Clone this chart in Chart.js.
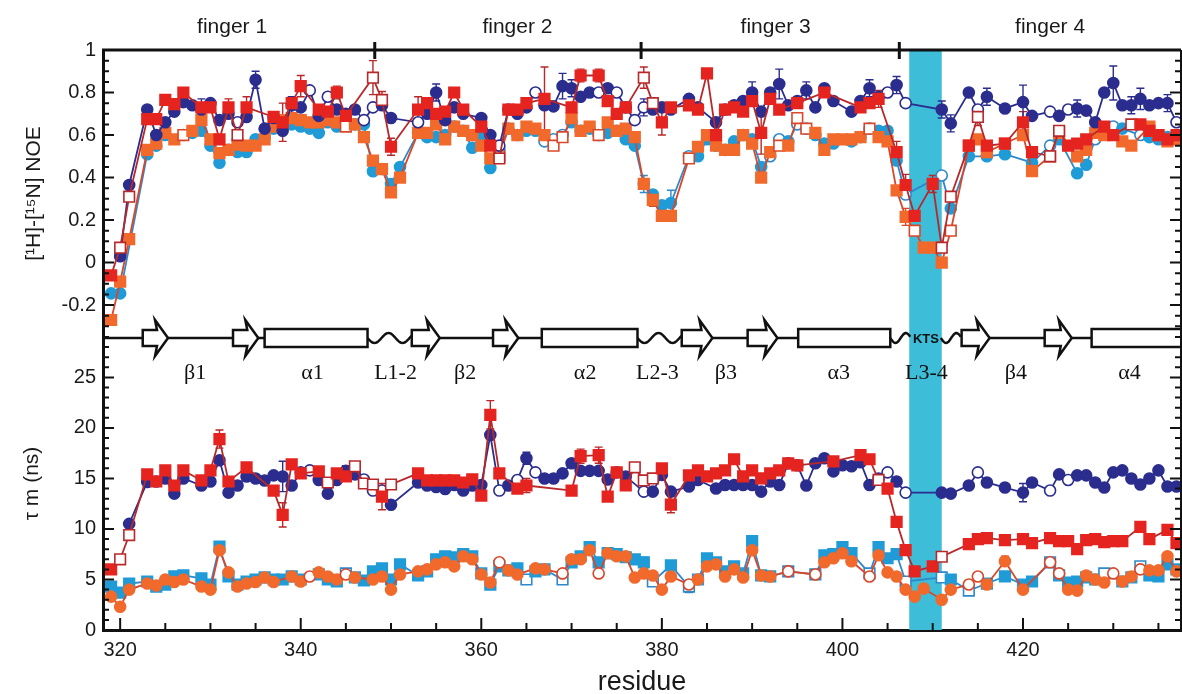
<!DOCTYPE html>
<html>
<head>
<meta charset="utf-8">
<script src="https://cdn.jsdelivr.net/npm/chart.js@4.4.1/dist/chart.umd.min.js"></script>
<style>
html,body{margin:0;padding:0;background:#fff}
</style>
</head>
<body>
<canvas id="chart" width="1182" height="694"></canvas>
<script>
const fam = '"Liberation Sans", Arial, sans-serif';
const serif = '"Liberation Serif", "DejaVu Serif", serif';

// axes
const xMin = 318.1, xMax = 437.5;
const xTicks = [320,340,360,380,400,420];
const noeTicks = [-0.2,0,0.2,0.4,0.6,0.8,1];
const tauTicks = [0,5,10,15,20,25];

// domains / secondary structure
const fingers = ['finger 1','finger 2','finger 3','finger 4'];
const fingerCenters = [332.4,364,392.6,423];
const fingerBounds = [348.2,377.7,406.3];
const ktsBand = [407.4,411.0];
const strands = [[322.5,325.3],[332.5,335.3],[352.3,355.4],[361.3,364.1],[382.2,385.6],[389.5,392.8],[413.2,416.3],[422.4,425.4]];
const helices = [[336,347.4],[366.7,377.3],[395.1,405.3],[427.6,445]];
const loops = [[347.4,352.3],[377.3,382.2],[405.3,407.6],[410.9,413.2]];
const ssLabels = ['β1','α1','L1-2','β2','α2','L2-3','β3','α3','L3-4','β4','α4'];
const ssLabelPos = [328.3,341.3,350.5,358.2,371.5,379.5,387.1,399.6,409.3,419.2,431.8];

// ---- NOE panel ----
const navyNoeRes = [320,321,323,324,325,326,327,328,329,330,331,332,
  333,334,335,336,337,338,339,340,341,342,
  343,344,345,346,347,348,349,350,
  353,354,355,356,357,358,
  360,361,362,363,364,365,366,367,368,369,
  370,371,372,373,374,375,376,377,378,379,
  380,381,383,384,
  386,387,388,389,390,391,392,393,394,395,
  396,397,398,399,
  401,402,403,404,405,406,407,
  411,412,414,415,416,418,420,421,
  423,424,425,426,427,428,429,430,431,432,433,434,435,436,437];
const navyNoe = [0.03,0.365,0.72,0.60,0.66,0.71,0.755,0.74,0.72,0.75,0.67,0.70,
  0.66,0.685,0.86,0.63,0.68,0.62,0.74,0.73,0.81,0.69,
  0.78,0.72,0.70,0.72,0.67,0.73,0.74,0.68,
  0.66,0.70,0.80,0.67,0.73,0.70,
  0.68,0.60,0.55,0.72,0.70,0.73,0.80,0.74,0.735,0.83,
  0.82,0.78,0.80,0.80,0.82,0.80,0.73,0.67,0.73,0.72,
  0.73,0.72,0.77,0.73,
  0.66,0.72,0.74,0.76,0.80,0.71,0.80,0.84,0.74,0.76,
  0.81,0.73,0.82,0.76,
  0.71,0.76,0.82,0.78,0.80,0.835,0.75,
  0.72,0.655,0.80,0.72,0.78,0.725,0.755,0.69,
  0.71,0.69,0.72,0.725,0.715,0.66,0.80,0.845,0.74,0.74,0.77,0.74,0.75,0.75,0.66];
const navyNoeOpen = [333,341,343,347,348,353,362,366,373,375,377,378,405,407,415,423,425,437];
const navyNoeErr = [[329,0.05],[335,0.04],[339,0.04],[355,0.04],[369,0.06],[370,0.04],[378,0.04],[390,0.05],[393,0.07],[396,0.04],[403,0.04],[406,0.04],[411,0.04],[412,0.04],[416,0.04],[420,0.08],[426,0.04],[430,0.08],[432,0.04],[433,0.05],[436,0.04]];

const redNoeRes = [319,320,321,323,324,325,326,327,329,330,
  331,332,333,334,337,338,339,340,342,343,
  344,345,348,349,350,353,354,355,356,357,
  358,360,361,362,363,364,365,367,370,371,
  373,374,375,376,378,379,380,381,383,384,
  385,386,387,388,389,390,391,392,393,395,
  398,402,403,404,406,407,408,410,411,412,
  414,415,416,418,420,421,423,424,425,426,
  427,429,430,432,433,434,435,436,437];
const redNoe = [-0.06,0.07,0.31,0.675,0.675,0.765,0.745,0.80,0.73,0.73,
  0.58,0.73,0.60,0.73,0.685,0.66,0.75,0.83,0.72,0.71,
  0.80,0.69,0.87,0.765,0.545,0.72,0.75,0.70,0.71,0.80,
  0.72,0.64,0.55,0.49,0.72,0.72,0.75,0.77,0.73,0.88,
  0.88,0.76,0.70,0.73,0.87,0.75,0.66,0.73,0.74,0.72,
  0.89,0.60,0.72,0.73,0.71,0.76,0.61,0.77,0.72,0.75,
  0.80,0.73,0.75,0.77,0.52,0.365,0.22,0.37,0.07,0.31,
  0.55,0.685,0.55,0.56,0.66,0.52,0.50,0.62,0.55,0.56,
  0.58,0.64,0.60,0.65,0.65,0.62,0.60,0.58,0.60];
const redNoeOpen = [320,321,333,348,349,362,378,379,411,412,415,423,424,432];
const redNoeErr = [[325,0.02],[327,0.02],[332,0.04],[334,0.05],[338,0.09],[340,0.05],[344,0.03],[348,0.08],[349,0.04],[350,0.04],[353,0.06],[367,0.15],[371,0.03],[373,0.03],[378,0.05],[380,0.06],[386,0.05],[391,0.1],[404,0.04],[406,0.05],[407,0.05],[410,0.04],[415,0.04],[420,0.05]];

const lbNoeRes = [319,320,323,324,325,327,328,329,330,331,
  332,333,334,335,336,337,338,339,340,341,
  342,343,344,345,346,347,348,349,350,351,
  353,354,355,356,357,358,359,360,361,362,
  363,364,365,366,367,368,369,370,371,372,
  373,374,375,376,377,378,379,380,381,383,
  384,385,386,387,388,389,390,391,392,393,
  394,395,396,397,398,399,401,402,403,404,
  405,406,407,411,412,414,416,418,421,423,
  424,426,427,428,430,431,433,434,435,436,437];
const lbNoe = [-0.145,-0.145,0.51,0.55,0.60,0.60,0.61,0.62,0.55,0.47,
  0.53,0.52,0.52,0.58,0.59,0.63,0.65,0.65,0.64,0.63,
  0.61,0.66,0.64,0.65,0.65,0.65,0.43,0.44,0.37,0.45,
  0.61,0.59,0.59,0.60,0.64,0.62,0.54,0.60,0.445,0.53,
  0.63,0.60,0.62,0.62,0.57,0.58,0.60,0.66,0.62,0.63,
  0.60,0.61,0.62,0.58,0.55,0.37,0.32,0.27,0.28,0.50,
  0.50,0.58,0.55,0.53,0.57,0.60,0.58,0.45,0.50,0.58,
  0.57,0.65,0.63,0.60,0.56,0.56,0.57,0.59,0.63,0.62,
  0.62,0.48,0.32,0.41,0.255,0.50,0.50,0.51,0.47,0.55,
  0.58,0.42,0.46,0.58,0.64,0.63,0.60,0.59,0.58,0.59,0.59];
const lbNoeOpen = [327,362,367,368,369,373,383,392,393,395,407,411,423,428,430,433];
const lbNoeErr = [[378,0.04],[381,0.06]];

const orNoeRes = [319,320,321,323,324,325,326,327,328,329,
  330,331,332,333,334,335,336,337,338,339,
  340,341,342,343,344,345,346,347,348,349,
  350,351,353,354,355,356,357,358,359,360,
  361,362,363,364,365,366,367,368,369,370,
  371,372,373,374,375,376,377,378,379,380,
  381,383,384,385,386,387,388,389,390,391,
  392,393,394,395,396,397,398,399,400,401,
  402,403,404,405,406,407,408,409,410,411,
  412,414,415,416,418,420,421,423,424,426,
  427,428,429,431,432,434,435,436,437];
const orNoe = [-0.27,-0.09,0.11,0.53,0.56,0.61,0.58,0.60,0.62,0.67,
  0.58,0.515,0.53,0.555,0.55,0.55,0.58,0.64,0.67,0.68,
  0.67,0.66,0.66,0.67,0.66,0.64,0.65,0.59,0.48,0.44,
  0.33,0.40,0.61,0.61,0.65,0.58,0.64,0.62,0.60,0.55,
  0.49,0.50,0.63,0.60,0.64,0.63,0.60,0.55,0.59,0.68,
  0.62,0.64,0.60,0.66,0.62,0.63,0.59,0.37,0.295,0.22,
  0.22,0.49,0.545,0.60,0.55,0.53,0.53,0.60,0.56,0.40,
  0.52,0.55,0.55,0.68,0.63,0.61,0.53,0.58,0.58,0.58,
  0.59,0.63,0.59,0.57,0.34,0.215,0.15,0.07,0.07,0.00,
  0.15,0.55,0.58,0.52,0.56,0.60,0.43,0.50,0.61,0.50,
  0.53,0.61,0.60,0.57,0.55,0.64,0.60,0.57,0.58];
const orNoeOpen = [327,345,362,368,369,373,383,393,395,396,403,408,412,423];
const orNoeErr = [[379,0.03],[407,0.04]];

// ---- tau_m panel ----
const navyTauRes = [321,323,324,325,326,327,329,330,331,332,
  333,334,335,336,337,338,339,340,341,342,
  343,344,345,346,347,348,349,350,353,354,
  355,356,357,358,359,360,361,362,363,364,
  365,366,367,368,369,370,371,372,373,374,
  375,376,378,379,380,381,383,384,386,387,
  388,389,390,391,392,393,394,395,396,397,
  398,399,400,401,402,403,404,405,406,407,
  411,412,414,415,416,418,420,421,423,424,
  425,426,427,428,429,430,431,432,433,434,
  435,436,437];
const navyTau = [10.5,14.65,14.7,15.0,13.5,15.0,14.3,14.7,16.8,13.6,
  14.3,15.2,15.0,14.8,15.3,15.2,14.3,15.6,15.8,14.85,
  13.5,14.85,15.75,15.4,14.9,13.8,13.8,12.4,14.6,14.3,
  14.15,13.95,14.35,13.8,14.3,14.35,19.3,13.8,14.3,14.85,
  17.0,15.6,15.0,15.0,15.5,16.5,15.75,15.75,15.75,14.9,
  15.6,15.2,13.7,13.7,15.35,13.7,14.2,14.85,14.0,14.35,
  14.35,14.35,14.35,13.7,14.7,14.35,16.5,16.3,14.3,16.5,
  17.0,15.7,16.3,16.2,16.6,14.35,15.0,15.6,14.7,13.6,
  13.6,13.5,14.3,15.6,14.6,14.1,13.6,14.6,13.8,15.4,
  14.85,15.3,15.3,14.6,14.1,15.6,15.8,15.0,14.4,15.0,
  15.8,14.2,14.2];
const navyTauOpen = [341,347,348,349,362,364,366,378,405,407,415,423,425];
const navyTauErr = [[338,1.5],[345,0.5],[365,0.6],[420,0.9]];

const redTauRes = [319,320,321,323,324,325,326,327,329,330,
  331,332,334,337,338,339,340,342,343,344,
  345,346,347,348,349,350,353,354,355,356,
  357,358,359,360,361,362,364,365,370,371,
  373,374,375,376,377,378,379,380,381,383,
  384,385,386,387,388,389,390,391,392,393,
  394,395,399,402,403,404,405,406,407,408,
  410,411,414,415,416,418,420,421,423,424,
  425,426,427,428,429,430,431,433,434,436,437];
const redTau = [6.0,7.0,9.4,15.4,14.7,15.8,14.3,15.8,14.8,15.8,
  18.9,14.7,16.1,13.8,11.4,16.4,15.5,15.7,14.6,15.5,
  15.2,16.2,14.5,14.4,13.2,14.4,15.5,14.8,14.8,14.8,
  14.8,14.6,14.9,13.3,21.3,15.5,14.0,14.3,13.8,17.2,
  17.3,13.2,15.6,14.3,16.1,14.8,15.0,16.0,12.4,15.3,
  15.8,15.2,15.5,15.8,16.9,15.2,15.8,15.0,15.5,15.8,
  16.5,16.3,16.7,17.3,16.9,14.85,14.0,10.7,7.9,5.8,
  6.3,7.25,8.5,9.0,9.1,8.9,9.0,8.6,9.1,8.8,
  8.8,8.0,8.9,9.0,8.7,8.8,8.8,10.2,9.0,9.9,8.6];
const redTauOpen = [320,321,343,346,347,348,350,377,378,379,404,411];
const redTauErr = [[331,0.9],[338,1.2],[349,1.3],[361,1.4],[365,0.7],[371,0.7],[373,0.8],[381,0.8],[402,0.4],[420,0.5]];

const lbTauRes = [319,320,321,323,324,325,326,327,329,330,
  331,332,333,334,335,336,337,338,339,340,
  342,343,344,345,346,347,348,349,350,351,
  353,354,355,356,357,358,359,360,361,362,
  363,364,365,366,367,369,370,371,372,373,
  374,375,376,377,378,379,381,383,384,385,
  386,387,388,389,390,391,392,394,397,398,
  399,400,401,403,404,405,406,407,411,412,
  414,416,418,420,421,423,424,425,426,427,
  428,429,431,432,433,434,435,436,437];
const lbTau = [4.3,3.7,4.6,4.8,4.3,4.5,5.3,5.4,5.1,4.5,
  8.25,5.3,4.5,4.8,5.0,5.2,5.0,5.0,5.3,5.0,
  5.5,5.0,4.8,5.6,5.2,4.9,5.8,6.1,5.0,6.5,
  5.4,5.8,7.0,7.3,7.2,7.5,7.3,5.6,4.5,6.3,
  5.9,6.1,5.0,5.8,6.0,5.0,6.7,7.3,8.2,6.7,
  7.6,7.5,7.2,7.0,6.7,4.8,6.4,4.3,5.0,7.1,
  6.7,5.8,6.3,5.6,8.8,5.4,5.3,5.8,5.5,7.4,
  7.5,8.2,7.6,5.6,8.2,7.1,7.5,4.8,5.2,5.0,
  3.9,4.6,5.3,4.5,4.8,6.7,5.4,4.7,4.8,5.2,
  5.0,5.6,4.8,5.2,6.3,5.4,5.3,6.5,6.0];
const lbTauOpen = [345,365,369,379,383,394,397,403,407,411,414,423,429,433];
const lbTauErr = [[378,0.5],[383,0.6],[404,0.5],[406,0.5]];

const orTauRes = [319,320,321,323,324,325,326,327,329,330,
  331,332,333,334,335,336,337,339,340,341,
  342,343,344,345,346,348,349,350,351,353,
  354,355,356,357,358,359,360,361,362,363,
  364,366,367,369,370,371,372,373,374,375,
  376,377,378,379,380,381,383,384,385,386,
  387,388,389,390,391,392,394,397,398,399,
  400,401,403,404,405,406,407,408,409,411,
  412,414,415,416,418,420,423,424,425,426,
  427,428,429,430,431,432,433,434,435,436,437];
const orTau = [3.3,2.3,4.0,4.6,4.4,5.0,4.75,5.0,4.3,4.0,
  7.9,5.7,4.3,4.6,4.75,5.2,4.75,5.3,4.8,5.3,
  5.7,5.3,5.0,5.5,5.2,5.0,5.3,4.0,5.5,5.8,
  6.0,6.5,6.7,6.3,7.3,7.0,5.5,4.7,6.7,5.9,
  5.5,6.1,6.0,5.6,7.0,7.0,7.9,5.6,7.6,7.3,
  7.3,5.2,5.6,5.4,4.0,5.3,4.5,5.0,6.3,6.5,
  5.3,6.0,5.2,7.9,5.4,5.3,5.8,5.5,6.7,7.1,
  7.6,6.8,5.3,7.4,5.7,5.3,4.0,3.3,4.1,3.0,
  4.0,4.5,5.3,4.5,6.8,4.0,6.7,5.6,4.0,3.9,
  5.4,5.0,4.7,5.6,4.8,5.3,6.0,5.9,5.9,7.3,5.8];
const orTauOpen = [341,345,362,369,373,383,394,397,403,414,415,423,424,430,433];
const orTauErr = [[418,0.5]];

// colours
const NAVY = '#2b2d8e', RED = '#e52420', REDL = '#b8282a', LB = '#1f9bd7', LBL = '#2d88cc', OR = '#f2692c', ORL = '#d9472a';

function series(res, vals, open, fill, line, style, axis, errs) {
  const isOpen = res.map(r => open.includes(r));
  return {
    yAxisID: axis,
    data: res.map((r, i) => ({x: r, y: vals[i]})),
    borderColor: line,
    borderWidth: 1.8,
    pointStyle: style,
    pointRadius: style === 'rect' ? 7.5 : 5.5,
    pointBackgroundColor: isOpen.map(o => o ? '#fff' : fill),
    pointBorderColor: isOpen.map(o => o ? line : fill),
    pointBorderWidth: 1.6,
    fill: false,
    tension: 0,
    errBars: errs
  };
}

const datasets = [
  series(redNoeRes, redNoe, redNoeOpen, RED, REDL, 'rect', 'noe', redNoeErr),
  series(navyNoeRes, navyNoe, navyNoeOpen, NAVY, NAVY, 'circle', 'noe', navyNoeErr),
  series(orNoeRes, orNoe, orNoeOpen, OR, ORL, 'rect', 'noe', orNoeErr),
  series(lbNoeRes, lbNoe, lbNoeOpen, LB, LBL, 'circle', 'noe', lbNoeErr),
  series(redTauRes, redTau, redTauOpen, RED, REDL, 'rect', 'tau', redTauErr),
  series(navyTauRes, navyTau, navyTauOpen, NAVY, NAVY, 'circle', 'tau', navyTauErr),
  series(orTauRes, orTau, orTauOpen, OR, ORL, 'circle', 'tau', orTauErr),
  series(lbTauRes, lbTau, lbTauOpen, LB, LBL, 'rect', 'tau', lbTauErr)
];

function wave(ctx, xa, xb, y) {
  const cycles = Math.max(1, (xb - xa) / 28);
  ctx.beginPath();
  for (let px = xa; px <= xb; px += 1) {
    const t = (px - xa) / (xb - xa);
    const yy = y + 5 * Math.sin(t * cycles * Math.PI * 2);
    if (px === xa) ctx.moveTo(px, yy); else ctx.lineTo(px, yy);
  }
  ctx.stroke();
}

const decor = {
  id: 'decor',
  beforeDatasetsDraw(chart) {
    const {ctx, chartArea: a, scales: {x}} = chart;
    ctx.save();
    // KTS band
    const b0 = x.getPixelForValue(ktsBand[0]), b1 = x.getPixelForValue(ktsBand[1]);
    ctx.fillStyle = '#3dbdd8';
    ctx.fillRect(b0, a.top, b1 - b0, a.bottom - a.top);
    // error bars
    chart.data.datasets.forEach(ds => {
      const sc = chart.scales[ds.yAxisID];
      ctx.strokeStyle = ds.borderColor;
      ctx.lineWidth = 1.4;
      (ds.errBars || []).forEach(([r, e]) => {
        const p = ds.data.find(d => d.x === r);
        if (!p) return;
        const px = x.getPixelForValue(r);
        const y0 = sc.getPixelForValue(p.y - e), y1 = sc.getPixelForValue(p.y + e);
        ctx.beginPath();
        ctx.moveTo(px, y0); ctx.lineTo(px, y1);
        ctx.moveTo(px - 4, y1); ctx.lineTo(px + 4, y1);
        ctx.moveTo(px - 4, y0); ctx.lineTo(px + 4, y0);
        ctx.stroke();
      });
    });
    ctx.restore();
  },
  afterDatasetsDraw(chart) {
    const {ctx, chartArea: a, scales: {x, noe, tau}} = chart;
    const X = v => x.getPixelForValue(v);
    ctx.save();
    ctx.strokeStyle = '#111';
    ctx.fillStyle = '#fff';

    // secondary structure line
    const yL = noe.bottom + 1;
    ctx.lineWidth = 2.5;
    const gaps = loops.concat([[407.6, 410.9]]).sort((p, q) => p[0] - q[0]);
    let start = xMin;
    ctx.beginPath();
    gaps.forEach(g => { ctx.moveTo(X(start), yL); ctx.lineTo(X(g[0]), yL); start = g[1]; });
    ctx.moveTo(X(start), yL); ctx.lineTo(X(xMax), yL);
    ctx.stroke();
    loops.forEach(l => wave(ctx, X(l[0]), X(l[1]), yL));

    helices.forEach(h => {
      const x0 = X(h[0]), x1 = X(h[1]);
      ctx.fillRect(x0, yL - 9, x1 - x0, 18);
      ctx.strokeRect(x0, yL - 9, x1 - x0, 18);
    });
    strands.forEach(s => {
      const x0 = X(s[0]), x1 = X(s[1]), xh = x1 - 11;
      ctx.beginPath();
      ctx.moveTo(x0, yL - 8); ctx.lineTo(xh, yL - 8); ctx.lineTo(xh - 2, yL - 18);
      ctx.lineTo(x1, yL); ctx.lineTo(xh - 2, yL + 18); ctx.lineTo(xh, yL + 8);
      ctx.lineTo(x0, yL + 8); ctx.closePath();
      ctx.fill(); ctx.stroke();
    });
    ctx.fillStyle = '#111';
    ctx.font = 'bold 13px ' + fam;
    ctx.textAlign = 'center'; ctx.textBaseline = 'middle';
    ctx.fillText('KTS', X(409.25), yL + 1);
    ctx.font = '22px ' + serif;
    ssLabels.forEach((t, i) => ctx.fillText(t, X(ssLabelPos[i]), yL + 35));

    // inward ticks on left / right / bottom
    ctx.lineWidth = 2;
    ctx.beginPath();
    for (let i = -7; i <= 20; i++) {
      const y = noe.getPixelForValue(i * 0.05);
      const len = i % 4 === 0 ? 11 : 6;
      ctx.moveTo(a.left, y); ctx.lineTo(a.left + len, y);
      ctx.moveTo(a.right, y); ctx.lineTo(a.right - len, y);
    }
    for (let i = 0; i <= 29; i++) {
      const y = tau.getPixelForValue(i);
      const len = i % 5 === 0 ? 11 : 6;
      ctx.moveTo(a.left, y); ctx.lineTo(a.left + len, y);
      ctx.moveTo(a.right, y); ctx.lineTo(a.right - len, y);
    }
    for (let v = 320; v <= 435; v += 5) {
      const px = X(v);
      const len = v % 20 === 0 ? 12 : 7;
      ctx.moveTo(px, a.bottom); ctx.lineTo(px, a.bottom - len);
    }
    ctx.stroke();

    // frame top + right
    ctx.lineWidth = 3;
    ctx.beginPath();
    ctx.moveTo(a.left - 1, a.top); ctx.lineTo(a.right, a.top);
    ctx.stroke();
    ctx.lineWidth = 2;
    ctx.beginPath();
    ctx.moveTo(a.right, a.top); ctx.lineTo(a.right, a.bottom);
    ctx.stroke();

    // finger boundaries and labels
    ctx.lineWidth = 3;
    ctx.beginPath();
    fingerBounds.forEach(b => { ctx.moveTo(X(b), a.top - 8); ctx.lineTo(X(b), a.top + 9); });
    ctx.stroke();
    ctx.fillStyle = '#1a1a1a';
    ctx.font = '21px ' + fam;
    fingers.forEach((f, i) => ctx.fillText(f, X(fingerCenters[i]), 27));
    ctx.restore();
  }
};

const tickFont = {family: fam, size: 20};
const fmt = v => String(+Number(v).toFixed(2));

new Chart(document.getElementById('chart'), {
  type: 'line',
  data: {datasets},
  options: {
    responsive: false,
    animation: false,
    layout: {autoPadding: false, padding: {top: 50, right: 1, left: 0, bottom: 0}},
    plugins: {legend: {display: false}, tooltip: {enabled: false}},
    scales: {
      x: {
        type: 'linear', min: xMin, max: xMax,
        afterBuildTicks: s => { s.ticks = xTicks.map(v => ({value: v})); },
        afterFit: s => { s.height = 64; },
        grid: {display: false, drawTicks: false},
        border: {display: true, width: 3, color: '#111'},
        ticks: {padding: 8, font: tickFont, color: '#1a1a1a', callback: fmt, maxRotation: 0, autoSkip: false},
        title: {display: true, text: 'residue', font: {family: fam, size: 27}, color: '#1a1a1a', padding: {top: 0, bottom: -5}}
      },
      tau: {
        type: 'linear', position: 'left', stack: 'panels', stackWeight: 293,
        min: 0, max: 29,
        afterBuildTicks: s => { s.ticks = tauTicks.map(v => ({value: v})); },
        afterFit: s => { s.width = 103; },
        grid: {display: false, drawTicks: false},
        border: {display: true, width: 3, color: '#111'},
        ticks: {padding: 7, font: tickFont, color: '#1a1a1a', callback: fmt, autoSkip: false},
        title: {display: true, text: 'τ m (ns)', font: {family: fam, size: 21}, color: '#1a1a1a', padding: {top: 20, bottom: 0}}
      },
      noe: {
        type: 'linear', position: 'left', stack: 'panels', stackWeight: 287,
        min: -0.35, max: 1,
        afterBuildTicks: s => { s.ticks = noeTicks.map(v => ({value: v})); },
        afterFit: s => { s.width = 103; },
        grid: {display: false, drawTicks: false},
        border: {display: true, width: 3, color: '#111'},
        ticks: {padding: 7, font: tickFont, color: '#1a1a1a', callback: fmt, autoSkip: false},
        title: {display: true, text: '[¹H]-[¹⁵N] NOE', font: {family: fam, size: 21}, color: '#1a1a1a', padding: {top: 22, bottom: 0}}
      }
    }
  },
  plugins: [decor]
});
</script>
</body>
</html>
